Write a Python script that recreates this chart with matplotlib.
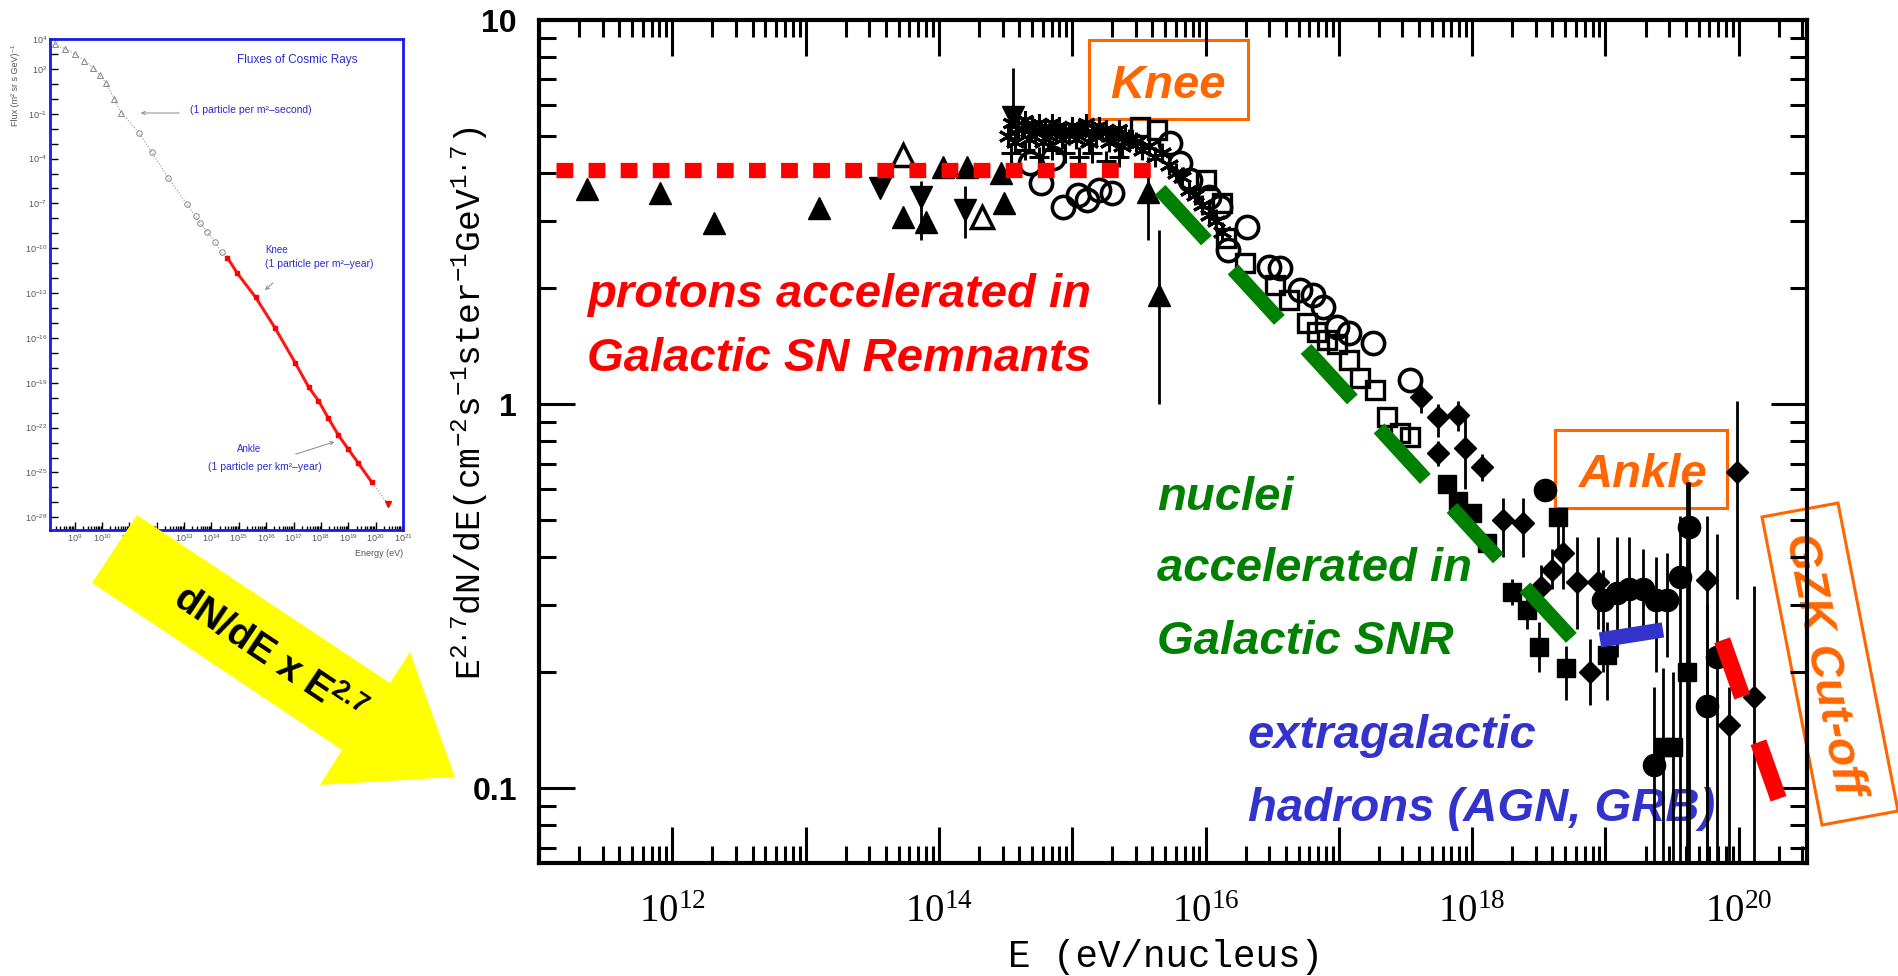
import numpy as np
import matplotlib
matplotlib.use("Agg")
import matplotlib.pyplot as plt
from matplotlib.patches import Polygon, Rectangle
from matplotlib.ticker import LogLocator, FuncFormatter, NullFormatter, FixedLocator, NullLocator

plt.rcParams['mathtext.fontset'] = 'custom'
plt.rcParams['mathtext.rm'] = 'Liberation Serif'
plt.rcParams['mathtext.it'] = 'Liberation Serif:italic'
plt.rcParams['mathtext.bf'] = 'Liberation Sans:bold'
plt.rcParams['mathtext.sf'] = 'Liberation Sans'
plt.rcParams['mathtext.tt'] = 'Liberation Mono'
plt.rcParams['font.family'] = ['Liberation Sans', 'DejaVu Sans']

# ---------------- data (E in eV, F = E^2.7 dN/dE) ----------------
tri_up_E = [2.3e11, 8.1e11, 2.05e12, 1.26e13, 5.4e13, 8.0e13, 1.07e14, 1.62e14, 2.9e14, 3.1e14, 3.7e15, 4.5e15]
tri_up_F = [3.63, 3.54, 2.96, 3.24, 3.07, 2.98, 4.14, 4.14, 3.99, 3.34, 3.57, 1.92]
tri_up_lo = [3.63, 3.54, 2.96, 3.24, 3.07, 2.98, 4.14, 4.14, 3.99, 3.34, 2.67, 1.0]
tri_up_hi = [3.63, 3.54, 2.96, 3.24, 3.07, 2.98, 4.14, 4.14, 3.99, 3.34, 4.4, 2.84]

tri_dn_E = [3.6e13, 7.4e13, 1.58e14, 3.6e14]
tri_dn_F = [3.65, 3.46, 3.2, 5.58]
tri_dn_lo = [3.65, 2.67, 2.7, 5.58]
tri_dn_hi = [3.65, 3.8, 3.7, 7.5]

otri_E = [5.4e13, 2.1e14]
otri_F = [4.45, 3.07]

star_E = [3.3e14, 3.7e14, 4.2e14, 4.7e14, 5.3e14, 6.0e14, 6.7e14, 7.5e14, 8.4e14, 9.4e14,
          1.06e15, 1.19e15, 1.33e15, 1.5e15, 1.68e15, 1.88e15, 2.1e15, 2.37e15, 2.66e15, 3.0e15,
          3.35e15, 3.75e15, 4.2e15, 4.7e15, 5.3e15, 6.0e15, 6.7e15, 7.5e15, 8.4e15, 9.4e15,
          1.06e16, 1.19e16, 1.33e16]
star_F = [5.0, 4.8, 5.2, 4.9, 5.1, 4.8, 5.0, 5.2, 4.9, 5.1,
          4.9, 5.2, 4.8, 5.0, 5.1, 4.8, 5.0, 4.7, 4.9, 4.8,
          4.6, 4.7, 4.4, 4.5, 4.2, 4.0, 3.9, 3.6, 3.5, 3.3,
          3.1, 3.0, 2.8]
star2_E = [3.5e14, 3.95e14, 4.45e14, 5.0e14, 5.6e14, 6.3e14, 7.1e14, 8.0e14, 8.9e14, 1.0e15,
           1.12e15, 1.26e15, 1.41e15, 1.59e15, 1.78e15, 2.0e15, 2.24e15, 2.5e15, 2.8e15]
star2_F = [5.4, 5.2, 5.5, 5.3, 5.4, 5.2, 5.4, 5.3, 5.1, 5.3,
           5.2, 5.4, 5.1, 5.3, 5.2, 5.0, 5.2, 5.0, 4.9]
cross_E = [3.5e14, 4.4e14, 5.6e14, 7.0e14, 8.9e14, 1.12e15, 1.41e15, 1.78e15, 2.24e15]
cross_F = [4.5, 4.6, 4.4, 4.6, 4.5, 4.4, 4.5, 4.3, 4.4]

ocirc_E = [4.8e14, 5.8e14, 7.2e14, 8.5e14, 1.1e15, 1.3e15, 1.6e15, 2.0e15, 5.4e15, 6.4e15,
           7.6e15, 1.07e16, 1.28e16, 1.48e16, 2.05e16, 3.0e16, 3.6e16, 5.1e16, 6.4e16, 7.6e16,
           9.7e16, 1.2e17, 1.8e17, 3.4e17]
ocirc_F = [4.25, 3.76, 4.37, 3.26, 3.5, 3.4, 3.6, 3.54, 4.78, 4.25,
           3.83, 3.46, 3.26, 2.52, 2.89, 2.27, 2.26, 1.98, 1.92, 1.79,
           1.59, 1.53, 1.44, 1.155]

osq_E = [3.2e15, 4.3e15, 1.0e16, 1.33e16, 1.42e16, 1.98e16, 3.3e16, 4.2e16, 5.8e16, 6.9e16,
         8.2e16, 9.7e16, 1.2e17, 1.44e17, 1.87e17, 2.3e17, 2.9e17, 3.4e17]
osq_F = [5.26, 5.18, 3.83, 3.33, 2.7, 2.33, 2.04, 1.87, 1.63, 1.54,
         1.47, 1.43, 1.30, 1.17, 1.09, 0.925, 0.84, 0.82]

fdia_E = [4.1e17, 5.5e17, 7.8e17, 5.5e17, 8.9e17, 1.18e18, 1.7e18, 2.4e18, 3.3e18, 4.0e18,
          4.8e18, 6.1e18, 8.8e18, 7.6e18, 5.8e19, 9.7e19, 1.29e20, 8.5e19]
fdia_F = [1.04, 0.925, 0.935, 0.745, 0.767, 0.685, 0.50, 0.49, 0.333, 0.37,
          0.41, 0.344, 0.344, 0.20, 0.348, 0.665, 0.173, 0.146]
fdia_lo = [0.95, 0.82, 0.85, 0.69, 0.60, 0.63, 0.40, 0.40, 0.29, 0.33,
           0.33, 0.26, 0.26, 0.165, 0.03, 0.31, 0.03, 0.03]
fdia_hi = [1.12, 1.0, 1.02, 0.80, 0.93, 0.74, 0.57, 0.57, 0.38, 0.42,
           0.50, 0.45, 0.45, 0.245, 0.51, 1.02, 0.335, 0.183]

fsq_E = [6.5e17, 7.8e17, 1.0e18, 1.3e18, 2.0e18, 2.6e18, 3.2e18, 4.4e18, 5.1e18, 1.02e19,
         4.1e19, 2.7e19, 3.2e19]
fsq_F = [0.62, 0.56, 0.52, 0.435, 0.324, 0.291, 0.233, 0.508, 0.206, 0.222,
         0.20, 0.128, 0.128]
fsq_lo = [0.60, 0.54, 0.50, 0.41, 0.30, 0.26, 0.20, 0.40, 0.17, 0.17,
          0.03, 0.03, 0.03]
fsq_hi = [0.64, 0.58, 0.54, 0.46, 0.35, 0.32, 0.27, 0.52, 0.235, 0.27,
          0.625, 0.205, 0.20]

fcirc_E = [3.55e18, 9.6e18, 1.22e19, 1.5e19, 1.9e19, 2.4e19, 2.9e19, 3.6e19, 4.2e19, 5.8e19,
           6.9e19, 2.3e19]
fcirc_F = [0.597, 0.309, 0.322, 0.33, 0.33, 0.309, 0.309, 0.355, 0.478, 0.164,
           0.219, 0.115]
fcirc_lo = [0.597, 0.20, 0.22, 0.24, 0.25, 0.20, 0.22, 0.03, 0.03, 0.03,
            0.03, 0.03]
fcirc_hi = [0.597, 0.37, 0.45, 0.45, 0.42, 0.40, 0.41, 0.51, 0.625, 0.30,
            0.46, 0.183]

# model components
proton_E = [1.35e11, 3.9e15]
proton_F = [4.06, 4.06]
nuclei_E = [4.56e15, 7.28e18]
nuclei_F = [3.61, 0.222]
extra_E = [9.1e18, 2.7e19]
extra_F = [0.243, 0.258]
gzk_E = [7.5e19, 2.04e20]
gzk_F = [0.2427, 0.0914]

# inset (log10 values)
ins_gray_logE = [8.27, 8.64, 9.0, 9.36, 9.67, 9.91, 10.15, 10.45, 10.70]
ins_gray_logF = [3.65, 3.35, 3.01, 2.55, 2.08, 1.62, 1.04, 0.0, -0.92]
ins_circ_logE = [11.34, 11.82, 12.43, 13.10, 13.42, 13.58, 13.85, 14.13, 14.37]
ins_circ_logF = [-2.26, -3.57, -5.31, -7.04, -7.85, -8.31, -8.89, -9.58, -10.27]
ins_red_logE = [14.58, 14.94, 15.61, 16.33, 17.06, 17.55, 17.91, 18.27, 18.64, 19.0, 19.36, 19.85]
ins_red_logF = [-10.62, -11.66, -13.27, -15.35, -17.66, -19.28, -20.20, -21.36, -22.51, -23.44, -24.36, -25.63]
ins_last_logE = [20.45]
ins_last_logF = [-27.13]
ins_ylabels = [4, 2, -1, -4, -7, -10, -13, -16, -19, -22, -25, -28]

# ---------------- figure ----------------
W, H = 1898, 976
fig = plt.figure(figsize=(W / 100, H / 100), dpi=100)
fig.patch.set_facecolor('white')


def fx(p):
    return p / W


def fy(p):
    return 1 - p / H


ORANGE = '#ff6600'
GREEN = '#008000'
BLUE = '#3333cc'
RED = '#ff0000'

ax = fig.add_axes([fx(539), fy(863), fx(1807) - fx(539), fy(20) - fy(863)])
ax.set_xscale('log')
ax.set_yscale('log')
ax.set_xlim(1e11, 3.25e20)
ax.set_ylim(0.0638, 10)
for s in ax.spines.values():
    s.set_linewidth(3)

ax.xaxis.set_major_locator(FixedLocator([10.0 ** k for k in range(11, 21)]))
ax.xaxis.set_minor_locator(LogLocator(base=10, subs=np.arange(2, 10), numticks=40))
ax.xaxis.set_major_formatter(FuncFormatter(
    lambda v, p: (r'$10^{%d}$' % round(np.log10(v))) if round(np.log10(v)) % 2 == 0 else ''))
ax.xaxis.set_minor_formatter(NullFormatter())
ax.yaxis.set_major_locator(FixedLocator([0.1, 1, 10]))
ax.yaxis.set_minor_locator(LogLocator(base=10, subs=np.arange(2, 10), numticks=40))
ax.yaxis.set_major_formatter(FuncFormatter(lambda v, p: {0.1: '0.1', 1: '1', 10: '10'}.get(round(v, 3), '')))
ax.yaxis.set_minor_formatter(NullFormatter())
ax.tick_params(which='both', direction='in', top=True, right=True, width=2.2)
ax.tick_params(which='major', length=26)
ax.tick_params(which='minor', length=12.5)
ax.tick_params(axis='x', which='major', labelsize=28, pad=22)
ax.tick_params(axis='y', which='major', labelsize=23, pad=16)
for lab in ax.get_yticklabels():
    lab.set_fontweight('bold')


def eb(E, F, lo, hi, **kw):
    E = np.asarray(E, float)
    F = np.asarray(F, float)
    lo = np.asarray(lo, float)
    hi = np.asarray(hi, float)
    ax.errorbar(E, F, yerr=[F - lo, hi - F], ls='none', ecolor='black',
                elinewidth=2.0, capsize=0, zorder=3, **kw)


# data markers
eb(tri_up_E, tri_up_F, tri_up_lo, tri_up_hi, fmt='^', color='black', ms=16)
eb(tri_dn_E, tri_dn_F, tri_dn_lo, tri_dn_hi, fmt='v', color='black', ms=16)
ax.plot(otri_E, otri_F, '^', mfc='white', mec='black', mew=2.5, ms=16, ls='none', zorder=3)
ax.plot(star_E, star_F, marker=(6, 2, 0), color='black', mew=2.2, ms=14, ls='none', zorder=3)
ax.plot(star2_E, star2_F, marker=(6, 2, 0), color='black', mew=2.2, ms=13, ls='none', zorder=3)
ax.plot(cross_E, cross_F, marker='+', color='black', mew=2.2, ms=14, ls='none', zorder=3)
ax.plot(ocirc_E, ocirc_F, 'o', mfc='none', mec='black', mew=2.6, ms=16, ls='none', zorder=3)
ax.plot(osq_E, osq_F, 's', mfc='none', mec='black', mew=2.4, ms=13, ls='none', zorder=3)
eb(fdia_E, fdia_F, fdia_lo, fdia_hi, fmt='D', color='black', ms=11)
eb(fsq_E, fsq_F, fsq_lo, fsq_hi, fmt='s', color='black', ms=13)
eb(fcirc_E, fcirc_F, fcirc_lo, fcirc_hi, fmt='o', color='black', ms=16)

# model lines
ax.plot(proton_E, proton_F, color=RED, lw=11, dashes=(1.1, 1.0), dash_capstyle='butt', zorder=10)
ax.plot(nuclei_E, nuclei_F, color=GREEN, lw=10.5, dashes=(4.7, 2.7), dash_capstyle='butt', zorder=10)
ax.plot(extra_E, extra_F, color=BLUE, lw=11, solid_capstyle='butt', zorder=10)
ax.plot(gzk_E, gzk_F, color=RED, lw=12, dashes=(3.6, 2.9), dash_capstyle='butt', zorder=10)

# annotations (figure pixel positions)
T = fig.transFigure
tk = dict(transform=T, fontweight='bold', fontstyle='italic', fontsize=34, zorder=1, clip_on=False)
ax.text(fx(587), fy(307), 'protons accelerated in', color=RED, va='baseline', ha='left', **tk)
ax.text(fx(587), fy(371), 'Galactic SN Remnants', color=RED, va='baseline', ha='left', **tk)
ax.text(fx(1157), fy(510), 'nuclei', color=GREEN, va='baseline', ha='left', **tk)
ax.text(fx(1157), fy(581), 'accelerated in', color=GREEN, va='baseline', ha='left', **tk)
ax.text(fx(1157), fy(654), 'Galactic SNR', color=GREEN, va='baseline', ha='left', **tk)
ax.text(fx(1248), fy(748), 'extragalactic', color=BLUE, va='baseline', ha='left', **tk)
ax.text(fx(1248), fy(821), 'hadrons (AGN, GRB)', color=BLUE, va='baseline', ha='left', **tk)
ax.text(fx(1168), fy(98), 'Knee', color=ORANGE, va='baseline', ha='center', **tk)
ax.text(fx(1643), fy(487), 'Ankle', color=ORANGE, va='baseline', ha='center', **tk)
ax.text(fx(1823), fy(665), 'GZK Cut-off', color=ORANGE, va='center', ha='center',
        rotation=-79, rotation_mode='anchor', **tk)

for (x0, y0, x1, y1) in [(1089, 40, 1248, 119), (1555, 430, 1727, 508)]:
    r = Rectangle((fx(x0), fy(y1)), fx(x1) - fx(x0), fy(y0) - fy(y1), transform=T,
                  fill=False, ec=ORANGE, lw=2.2, zorder=1, clip_on=False)
    ax.add_artist(r)
gzk_box = Polygon([(fx(1762), fy(517)), (fx(1838), fy(503)), (fx(1898), fy(811)), (fx(1822), fy(825))],
                  closed=True, transform=T, fill=False, ec=ORANGE, lw=2.2, zorder=1, clip_on=False)
ax.add_artist(gzk_box)

# axis labels
fig.text(fx(1165), fy(967), 'E (eV/nucleus)', family='Liberation Mono', fontsize=27,
         ha='center', va='baseline')
fig.text(fx(470), fy(403), r'$\mathtt{E^{2.7}dN/dE(cm^{-2}s^{-1}ster^{-1}GeV^{1.7})}$',
         rotation=90, ha='center', va='center', fontsize=25)

# ---------------- inset ----------------
ax2 = fig.add_axes([fx(50), fy(530), fx(403) - fx(50), fy(39) - fy(530)])
ax2.set_xscale('log')
ax2.set_yscale('log')
ax2.set_xlim(10 ** 8.1, 1e21)
ax2.set_ylim(10 ** -28.85, 1e4)
for s in ax2.spines.values():
    s.set_color('#1a1ae6')
    s.set_linewidth(2)
ax2.xaxis.set_major_locator(FixedLocator([10.0 ** k for k in range(9, 22)]))
ax2.xaxis.set_minor_locator(LogLocator(base=10, subs=np.arange(2, 10), numticks=40))
ax2.xaxis.set_major_formatter(FuncFormatter(lambda v, p: r'$\mathsf{10^{%d}}$' % round(np.log10(v))))
ax2.xaxis.set_minor_formatter(NullFormatter())
ax2.yaxis.set_major_locator(FixedLocator([10.0 ** k for k in range(-28, 5)]))
ax2.yaxis.set_minor_locator(NullLocator())
ax2.yaxis.set_major_formatter(FuncFormatter(
    lambda v, p: (r'$\mathsf{10^{%d}}$' % round(np.log10(v))) if round(np.log10(v)) in ins_ylabels else ''))
ax2.tick_params(which='both', direction='in', width=1, color='black', labelcolor='#555555', labelsize=6.5)
ax2.tick_params(which='major', length=6, pad=2)
ax2.tick_params(which='minor', length=3)

ge = 10.0 ** np.array(ins_gray_logE)
gf = 10.0 ** np.array(ins_gray_logF)
ce = 10.0 ** np.array(ins_circ_logE)
cf = 10.0 ** np.array(ins_circ_logF)
re_ = 10.0 ** np.array(ins_red_logE)
rf = 10.0 ** np.array(ins_red_logF)
le = 10.0 ** np.array(ins_last_logE)
lf = 10.0 ** np.array(ins_last_logF)
ax2.plot(np.concatenate([ge, ce, re_, le]), np.concatenate([gf, cf, rf, lf]), ':', color='#999999', lw=0.8)
ax2.plot(ge, gf, '^', mfc='none', mec='#888888', ms=4, mew=0.7, ls='none')
ax2.plot(ce, cf, 'o', mfc='none', mec='#888888', ms=4, mew=0.7, ls='none')
ax2.plot(re_, rf, '-', color=RED, lw=2.2, alpha=0.9)
ax2.plot(re_, rf, 's', color=RED, ms=2.5, ls='none')
ax2.plot(le, lf, 'v', color=RED, ms=4, ls='none')

ic = '#2a2ad0'
fig.text(fx(237), fy(60), 'Fluxes of Cosmic Rays', color=ic, fontsize=8.5, va='center')
fig.text(fx(190), fy(110), '(1 particle per m\u00b2\u2013second)', color=ic, fontsize=7.5, va='center')
fig.text(fx(265), fy(250), 'Knee', color=ic, fontsize=7, va='center')
fig.text(fx(265), fy(264), '(1 particle per m\u00b2\u2013year)', color=ic, fontsize=7.5, va='center')
fig.text(fx(237), fy(449), 'Ankle', color=ic, fontsize=7, va='center')
fig.text(fx(208), fy(467), '(1 particle per km\u00b2\u2013year)', color=ic, fontsize=7.5, va='center')
for (x0, y0, x1, y1) in [(182, 113, 138, 113), (275, 281, 263, 292), (293, 455, 337, 441)]:
    fig.add_artist(matplotlib.patches.FancyArrowPatch((fx(x0), fy(y0)), (fx(x1), fy(y1)), transform=T,
                                                      arrowstyle='->', mutation_scale=6, color='#888888', lw=0.7))
fig.text(fx(16), fy(85), 'Flux (m\u00b2 sr s GeV)\u207b\u00b9', rotation=90, color='#555555', fontsize=6.5,
         ha='center', va='center')
fig.text(fx(403), fy(553), 'Energy (eV)', color='#555555', fontsize=6.5, ha='right', va='center')

# ---------------- yellow arrow ----------------
arrow = Polygon([(fx(137), fy(515)), (fx(390), fy(683)), (fx(410), fy(652)), (fx(455), fy(777)),
                 (fx(320), fy(785)), (fx(342), fy(750)), (fx(92), fy(583))],
                closed=True, transform=T, fc='#ffff00', ec='none', zorder=5)
fig.add_artist(arrow)
fig.text(fx(268), fy(656), r'dN/dE x E$^{\mathbf{2.7}}$', rotation=-33.7, rotation_mode='anchor',
         ha='center', va='center', fontsize=28, fontweight='bold', zorder=6)

fig.savefig('out.png', dpi=100, facecolor='white')
